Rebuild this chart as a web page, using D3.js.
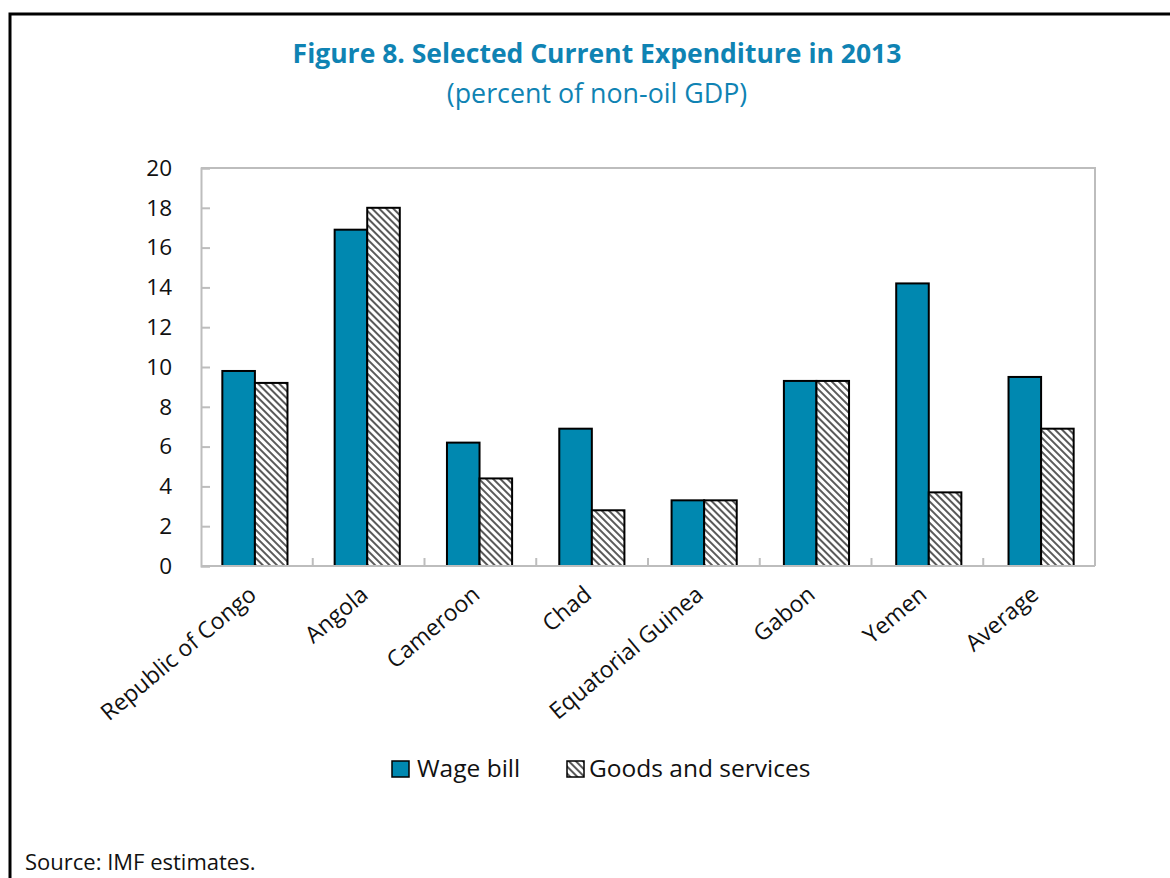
<!DOCTYPE html>
<html>
<head>
<meta charset="utf-8">
<script src="https://cdn.jsdelivr.net/npm/d3@7"></script>
<style>
  html, body { margin: 0; padding: 0; background: #fff; }
  svg { display: block; font-family: "Open Sans", "Noto Sans", sans-serif; }
</style>
</head>
<body>
<svg id="chart" width="1170" height="878"></svg>
<script>
// Data: selected current expenditure, 2013 (percent of non-oil GDP)
const categories = ["Republic of Congo", "Angola", "Cameroon", "Chad", "Equatorial Guinea", "Gabon", "Yemen", "Average"];
const wageBill = [9.8, 16.9, 6.2, 6.9, 3.3, 9.3, 14.2, 9.5];
const goodsServices = [9.2, 18.0, 4.4, 2.8, 3.3, 9.3, 3.7, 6.9];
const seriesNames = ["Wage bill", "Goods and services"];
const yTicks = [0, 2, 4, 6, 8, 10, 12, 14, 16, 18, 20];

const svg = d3.select("#chart");
const W = 1170, H = 878;
const margin = { left: 201, right: 1095, top: 168, bottom: 566 };
const blue = "#0088B0";
const titleBlue = "#0F83B3";

// Hatch pattern for the goods-and-services series
const defs = svg.append("defs");
const pat = defs.append("pattern")
  .attr("id", "hatch")
  .attr("patternUnits", "userSpaceOnUse")
  .attr("width", 5).attr("height", 5)
  .attr("patternTransform", "rotate(45)");
pat.append("rect").attr("width", 5).attr("height", 5).attr("fill", "#fff");
pat.append("rect").attr("x", 0).attr("y", 0).attr("width", 5).attr("height", 2).attr("fill", "#5a5a5a");

// Outer frame
svg.append("path")
  .attr("d", `M10,${H + 2} L10,14 L${W + 2},14`)
  .attr("fill", "none").attr("stroke", "#000").attr("stroke-width", 3);

// Titles
svg.append("text")
  .attr("x", 597).attr("y", 63)
  .attr("text-anchor", "middle")
  .attr("font-weight", "bold").attr("font-size", 26.5)
  .attr("fill", titleBlue)
  .text("Figure 8. Selected Current Expenditure in 2013");
svg.append("text")
  .attr("x", 597).attr("y", 103)
  .attr("text-anchor", "middle")
  .attr("font-size", 26.8)
  .attr("fill", titleBlue)
  .text("(percent of non-oil GDP)");

// Scales
const x0 = d3.scaleBand().domain(categories).range([margin.left, margin.right]).paddingInner(0.42).paddingOuter(0.19);
const xGroup = d3.scaleBand().domain(categories).range([margin.left, margin.right]);
const x1 = d3.scaleBand().domain(seriesNames).range([0, x0.bandwidth()]);
const y = d3.scaleLinear().domain([0, 20]).range([margin.bottom, margin.top]);

const axisColor = "#BDBDBD";

// Plot frame (top and right)
svg.append("path")
  .attr("d", `M${margin.left},${margin.top} L${margin.right},${margin.top} L${margin.right},${margin.bottom}`)
  .attr("fill", "none").attr("stroke", axisColor).attr("stroke-width", 2);

// Y axis
const yAxis = svg.append("g")
  .attr("transform", `translate(${margin.left},0)`)
  .call(d3.axisRight(y).tickValues(yTicks).tickSize(9).tickFormat(""));
yAxis.select(".domain").attr("stroke", axisColor).attr("stroke-width", 2);
yAxis.selectAll(".tick line").attr("stroke", axisColor).attr("stroke-width", 2);

svg.append("g").selectAll("text")
  .data(yTicks).join("text")
  .attr("x", 172).attr("y", d => y(d))
  .attr("dy", "0.35em")
  .attr("text-anchor", "end")
  .attr("font-size", 22.5)
  .attr("fill", "#111")
  .text(d => d);

// Bars
const groups = svg.append("g").selectAll("g")
  .data(categories).join("g")
  .attr("transform", d => `translate(${x0(d)},0)`);

groups.append("rect")
  .attr("x", x1("Wage bill"))
  .attr("y", (d, i) => y(wageBill[i]))
  .attr("width", x1.bandwidth())
  .attr("height", (d, i) => y(0) - y(wageBill[i]))
  .attr("fill", blue)
  .attr("stroke", "#000").attr("stroke-width", 2);

groups.append("rect")
  .attr("x", x1("Goods and services"))
  .attr("y", (d, i) => y(goodsServices[i]))
  .attr("width", x1.bandwidth())
  .attr("height", (d, i) => y(0) - y(goodsServices[i]))
  .attr("fill", "url(#hatch)")
  .attr("stroke", "#000").attr("stroke-width", 2);

// X axis line and category-boundary ticks
svg.append("line")
  .attr("x1", margin.left).attr("x2", margin.right)
  .attr("y1", margin.bottom).attr("y2", margin.bottom)
  .attr("stroke", axisColor).attr("stroke-width", 2);
svg.append("g").selectAll("line")
  .data(categories.slice(1)).join("line")
  .attr("x1", d => xGroup(d)).attr("x2", d => xGroup(d))
  .attr("y1", margin.bottom).attr("y2", margin.bottom - 8)
  .attr("stroke", axisColor).attr("stroke-width", 2);

// Category labels, rotated
svg.append("g").selectAll("text")
  .data(categories).join("text")
  .attr("transform", d => `translate(${xGroup(d) + xGroup.bandwidth() / 2 + 1},${597}) rotate(-40)`)
  .attr("text-anchor", "end")
  .attr("font-size", 23)
  .attr("fill", "#111")
  .text(d => d);

// Legend
const legend = svg.append("g");
const legendItems = [
  { name: seriesNames[0], fill: blue, x: 392, tx: 417 },
  { name: seriesNames[1], fill: "url(#hatch)", x: 567, tx: 589 }
];
legendItems.forEach(it => {
  legend.append("rect")
    .attr("x", it.x).attr("y", 761).attr("width", 17).attr("height", 16)
    .attr("fill", it.fill).attr("stroke", "#000").attr("stroke-width", 1.5);
  legend.append("text")
    .attr("x", it.tx).attr("y", 777)
    .attr("font-size", 24.5).attr("fill", "#111")
    .text(it.name);
});

// Source note
svg.append("text")
  .attr("x", 25).attr("y", 870)
  .attr("font-size", 22).attr("fill", "#111")
  .text("Source: IMF estimates.");
</script>
</body>
</html>
